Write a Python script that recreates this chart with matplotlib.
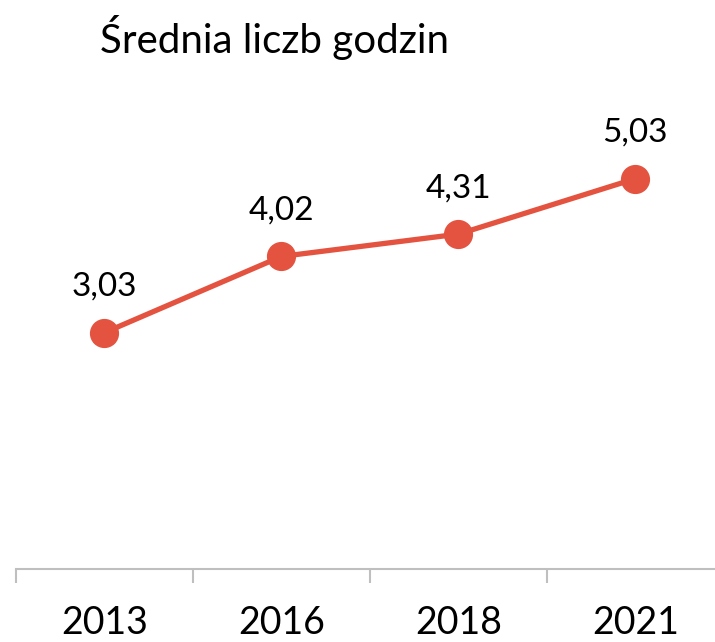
import matplotlib
matplotlib.use("Agg")
from matplotlib import pyplot as plt
import numpy as np

years = ['2013', '2016', '2018', '2021']
values = [3.03, 4.02, 4.31, 5.03]
labels = ['3,03', '4,02', '4,31', '5,03']
title = 'Średnia liczb godzin'

red = '#E4533F'
grey = '#BFBFBF'

plt.rcParams['font.family'] = ['Lato', 'DejaVu Sans']

fig = plt.figure(figsize=(7.15, 6.42), dpi=100)
ax = fig.add_axes([16 / 715, 73 / 642, 699 / 715, 465 / 642])

x = np.arange(len(years))
ax.plot(x, values, color=red, lw=3.8, marker='o', ms=20, zorder=3)
for xi, v, lab in zip(x, values, labels):
    ax.annotate(lab, (xi, v), xytext=(0, 33), textcoords='offset points',
                ha='center', va='center', fontsize=24, color='black')

ax.set_xlim(-0.5, 3.45)
ax.set_ylim(-0.04, 6)
ax.set_yticks([])
for s in ['top', 'right', 'left']:
    ax.spines[s].set_visible(False)
ax.spines['bottom'].set_color(grey)
ax.spines['bottom'].set_linewidth(1.5)

ax.set_xticks(x)
ax.set_xticklabels(years, fontsize=27)
ax.tick_params(axis='x', which='major', length=0, pad=26)
ax.set_xticks(np.arange(-0.5, 3.5, 1), minor=True)
ax.tick_params(axis='x', which='minor', length=10, width=1.5, color=grey)

fig.text(100 / 715, 1 - 37 / 642, title, fontsize=29, ha='left', va='center')

fig.savefig('out.png', dpi=100)
